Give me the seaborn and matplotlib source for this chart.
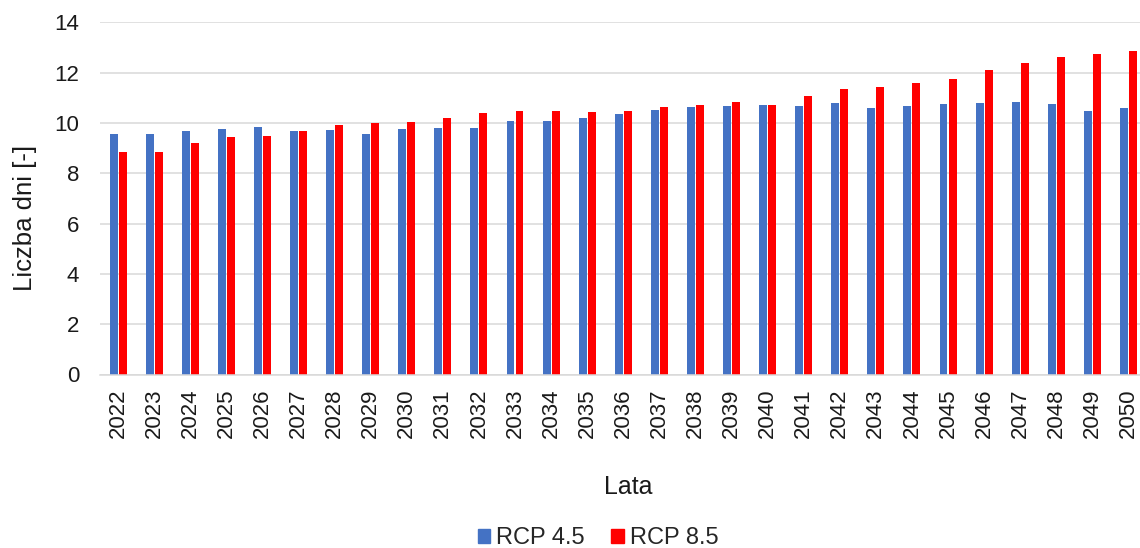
import matplotlib
matplotlib.use("Agg")
import matplotlib.pyplot as plt
import pandas as pd
import seaborn as sns

sns.set_style("white")
plt.rcParams['font.family'] = ['Liberation Sans', 'DejaVu Sans']

years = [str(y) for y in range(2022, 2051)]
rcp45 = [9.57, 9.57, 9.68, 9.75, 9.85, 9.67, 9.71, 9.57, 9.75, 9.78,
         9.80, 10.08, 10.09, 10.20, 10.36, 10.52, 10.63, 10.67, 10.73, 10.68,
         10.78, 10.60, 10.67, 10.75, 10.78, 10.83, 10.74, 10.47, 10.58]
rcp85 = [8.83, 8.83, 9.19, 9.43, 9.48, 9.68, 9.91, 10.00, 10.04, 10.20,
         10.38, 10.46, 10.46, 10.42, 10.46, 10.63, 10.71, 10.82, 10.71, 11.09,
         11.33, 11.44, 11.57, 11.75, 12.12, 12.40, 12.64, 12.73, 12.86]
series = ["RCP 4.5", "RCP 8.5"]
colours = ["#4472C4", "#FF0000"]

df = pd.DataFrame({
    "rok": years * 2,
    "wartosc": rcp45 + rcp85,
    "scenariusz": [series[0]] * len(years) + [series[1]] * len(years),
})

fig = plt.figure(figsize=(11.4, 5.48), dpi=100)
ax = fig.add_axes([100 / 1140, 1 - 374.5 / 548, 1046.5 / 1140, (374.5 - 22.3) / 548])

sns.barplot(data=df, x="rok", y="wartosc", hue="scenariusz", palette=colours,
            saturation=1, width=0.5, gap=0.12, ax=ax, legend=False, linewidth=0)

ax.set_xlim(-0.5, len(years) - 0.5)
ax.set_ylim(0, 14)
ax.set_yticks(range(0, 15, 2))
ax.yaxis.grid(True, color="#D9D9D9", linewidth=1.1)
ax.set_axisbelow(True)
for side in ["left", "right", "top"]:
    ax.spines[side].set_visible(False)
ax.spines["bottom"].set_color("#D9D9D9")
ax.spines["bottom"].set_linewidth(1.1)
ax.tick_params(axis="y", length=0, pad=15, labelsize=16, labelcolor="#1a1a1a")
ax.tick_params(axis="x", length=0, pad=10, labelsize=16, labelcolor="#1a1a1a", rotation=90)

ax.set_xlabel("")
ax.set_ylabel("")
fig.text(25 / 1140, 1 - 218 / 548, "Liczba dni [-]", rotation=90, ha="center", va="center",
         fontsize=18.5, color="#1a1a1a")
fig.text(628 / 1140, 1 - 487 / 548, "Lata", ha="center", va="center", fontsize=18, color="#1a1a1a")

handles = [plt.Rectangle((0, 0), 1, 1, color=c) for c in colours]
fig.legend(handles, series, loc="center", bbox_to_anchor=(598 / 1140, 1 - 538 / 548),
           ncol=2, frameon=False, fontsize=17, handlelength=0.55, handleheight=0.55,
           handletextpad=0.25, columnspacing=1.1, borderpad=0)

fig.savefig("out.png", dpi=100)
